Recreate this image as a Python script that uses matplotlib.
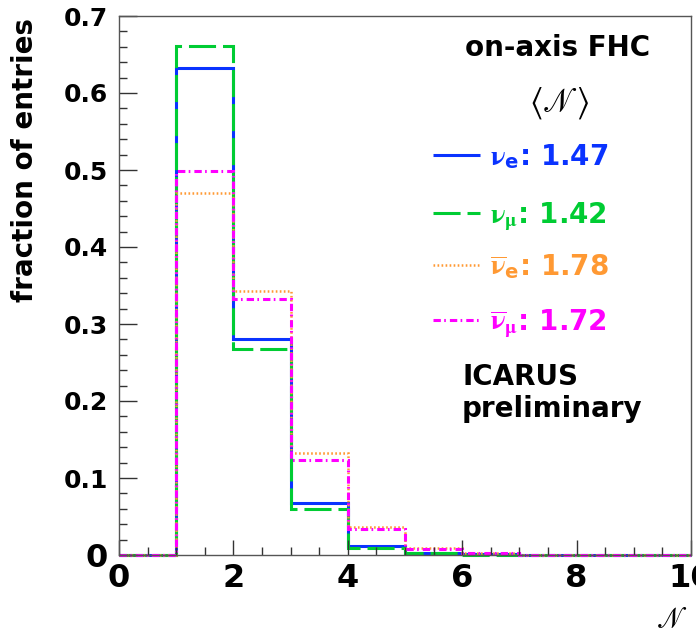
import numpy as np
import matplotlib
matplotlib.use("Agg")
import matplotlib.pyplot as plt
from matplotlib.lines import Line2D
from matplotlib.ticker import MultipleLocator

plt.rcParams["font.family"] = ["DejaVu Sans"]
plt.rcParams["font.weight"] = "bold"
plt.rcParams["mathtext.fontset"] = "custom"
plt.rcParams["mathtext.rm"] = "STIXGeneral"
plt.rcParams["mathtext.it"] = "STIXGeneral:italic"
plt.rcParams["mathtext.bf"] = "DejaVu Sans:bold"
plt.rcParams["lines.scale_dashes"] = False

# Multiplicity bins: N in [k, k+1)
edges = np.arange(0, 11)
nue = [0, 0.633, 0.281, 0.068, 0.012, 0.003, 0.001, 0, 0, 0]
numu = [0, 0.661, 0.267, 0.060, 0.0095, 0.002, 0.0005, 0, 0, 0]
nuebar = [0, 0.470, 0.343, 0.133, 0.037, 0.0087, 0.002, 0.0005, 0, 0]
numubar = [0, 0.499, 0.333, 0.123, 0.034, 0.008, 0.002, 0.0005, 0, 0]

series_labels = [r"$\mathrm{ν}_{\mathbf{e}}$: ", r"$\mathrm{ν}_{\mathrm{μ}}$: ",
                 r"$\overline{\mathrm{ν}}_{\mathbf{e}}$: ", r"$\overline{\mathrm{ν}}_{\mathrm{μ}}$: "]
mean_values = ["1.47", "1.42", "1.78", "1.72"]
colors = ["#0a33ff", "#00cc33", "#ff9933", "#ff00ff"]
styles = [(0, ()), (0, (19.5, 5)), (0, (1.2, 1.7)), (0, (5.3, 2.4, 1.2, 2.9))]
widths = [2.2, 2.2, 1.8, 2.2]

SCRIPT_FONTS = ["STIXGeneral", "DejaVu Serif", "DejaVu Sans"]

W, H = 696, 634
fig = plt.figure(figsize=(W / 100, H / 100), dpi=100)


def fx(px):
    return px / W


def fy(py):
    return 1 - py / H


ax = fig.add_axes([fx(119), fy(555), fx(691) - fx(119), fy(16) - fy(555)])

for vals, c, ls, lw in zip([nue, numu, nuebar, numubar], colors, styles, widths):
    ax.stairs(vals, edges, baseline=None, color=c, linestyle=ls, linewidth=lw,
              clip_on=False)

ax.set_xlim(0, 10)
ax.set_ylim(0, 0.7)

for s in ax.spines.values():
    s.set_color("#555555")
    s.set_linewidth(1.0)

ax.xaxis.set_major_locator(MultipleLocator(2))
ax.xaxis.set_minor_locator(MultipleLocator(0.5))
ax.yaxis.set_major_locator(MultipleLocator(0.1))
ax.yaxis.set_minor_locator(MultipleLocator(0.02))
ax.tick_params(axis="both", which="both", direction="in", color="#333333",
               top=False, right=False)
ax.tick_params(axis="x", which="major", length=11, width=1, labelsize=23, pad=6)
ax.tick_params(axis="x", which="minor", length=6, width=1)
ax.tick_params(axis="y", which="major", length=13, width=1, labelsize=18, pad=8)
ax.tick_params(axis="y", which="minor", length=6, width=1)

ax.set_xticks([0, 2, 4, 6, 8, 10])
ax.set_xticklabels(["0", "2", "4", "6", "8", "10"])
yt = [0, 0.1, 0.2, 0.3, 0.4, 0.5, 0.6, 0.7]
ax.set_yticks(yt)
ax.set_yticklabels(["0", "0.1", "0.2", "0.3", "0.4", "0.5", "0.6", "0.7"])
for lab in ax.get_xticklabels() + ax.get_yticklabels():
    lab.set_fontweight("bold")
ax.get_yticklabels()[0].set_fontsize(23)

# Axis titles
fig.text(fx(686), fy(621), "\U0001D4A9", ha="right", va="center", fontsize=22,
         family=SCRIPT_FONTS, fontweight="normal")
fig.text(fx(25), fy(18), "fraction of entries", rotation=90, ha="center", va="top",
         fontsize=20, fontweight="bold")

# Annotations
fig.text(fx(558), fy(48), "on-axis FHC", ha="center", va="center", fontsize=20,
         fontweight="bold")
fig.text(fx(560), fy(103), "\u27E8\U0001D4A9\u27E9", ha="center", va="center",
         fontsize=25, family=SCRIPT_FONTS, fontweight="normal")

line_y = [155, 213, 265, 320]
for ly, lab, mv, c, ls, lw in zip(line_y, series_labels, mean_values, colors, styles, widths):
    fig.add_artist(Line2D([fx(433), fx(480)], [fy(ly), fy(ly)], color=c, linestyle=ls,
                          linewidth=lw, transform=fig.transFigure))
    fig.text(fx(490), fy(ly + 10), lab + mv, ha="left", va="baseline", fontsize=20,
             fontweight="bold", color=c)

fig.text(fx(462), fy(385), "ICARUS", ha="left", va="baseline", fontsize=20,
         fontweight="bold")
fig.text(fx(462), fy(417), "preliminary", ha="left", va="baseline", fontsize=20,
         fontweight="bold")

fig.savefig("out.png", dpi=100)
